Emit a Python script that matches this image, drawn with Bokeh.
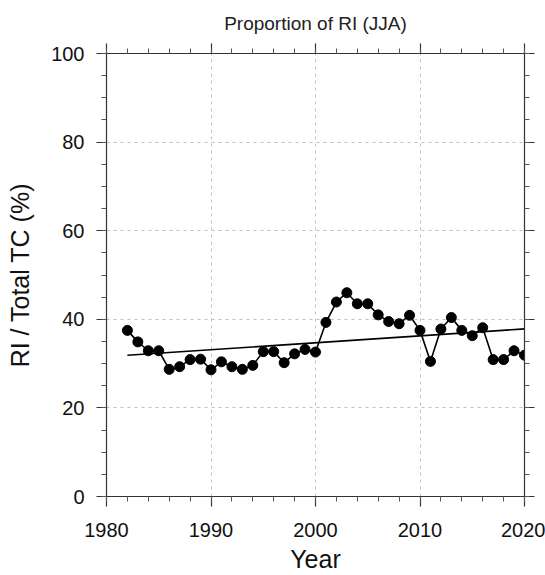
import numpy as np
from bokeh.plotting import figure
from bokeh.models import LinearAxis, FixedTicker, Range1d, CustomJSTickFormatter
from bokeh.embed import file_html
from bokeh.resources import INLINE

# Annual share of rapidly intensifying TCs (June-August), percent
years = list(range(1982, 2021))
ri_share = [37.5, 34.9, 32.9, 32.9, 28.7, 29.3, 30.9, 31.0, 28.6, 30.4,
            29.3, 28.7, 29.6, 32.7, 32.7, 30.2, 32.2, 33.2, 32.6, 39.3,
            43.9, 46.0, 43.5, 43.5, 41.0, 39.5, 39.0, 40.9, 37.5, 30.5,
            37.8, 40.4, 37.5, 36.3, 38.1, 30.9, 30.9, 32.9, 31.9]

x_major = [1980, 1990, 2000, 2010, 2020]
x_minor = [y for y in range(1980, 2021, 2)]
y_major = [0, 20, 40, 60, 80, 100]
y_minor = list(range(0, 101, 5))

# least-squares linear trend over the series
slope, intercept = np.polyfit(years, ri_share, 1)
trend_x = [years[0], years[-1]]
trend_y = [slope * x + intercept for x in trend_x]

FONT = "Liberation Sans"

p = figure(width=545, height=575, output_backend="svg", toolbar_location=None,
           x_range=Range1d(1980, 2020), y_range=Range1d(0, 100),
           min_border_left=106, min_border_right=21,
           min_border_top=53, min_border_bottom=79,
           title="Proportion of RI (JJA)")
p.title.align = "center"
p.title.text_font = FONT
p.title.text_font_size = "19px"
p.title.text_font_style = "normal"
p.title.text_color = "#222222"
p.title.standoff = 19
p.outline_line_color = None
p.background_fill_color = "white"
p.border_fill_color = "white"

def style_axis(ax, ticks, minors, show_labels):
    ax.ticker = FixedTicker(ticks=ticks, minor_ticks=minors)
    ax.axis_line_color = "#333333"
    ax.axis_line_width = 1.2
    ax.major_tick_line_color = "#333333"
    ax.major_tick_line_width = 1.2
    ax.minor_tick_line_color = "#555555"
    ax.major_tick_out = 10
    ax.major_tick_in = 0
    ax.minor_tick_out = 5
    ax.minor_tick_in = 0
    ax.major_label_text_font = FONT
    ax.major_label_text_font_size = "20px"
    ax.major_label_text_color = "#111111"
    ax.major_label_standoff = 12
    ax.axis_label_text_font = FONT
    ax.axis_label_text_font_size = "25px"
    ax.axis_label_text_font_style = "normal"
    ax.axis_label_text_color = "#111111"
    if not show_labels:
        ax.formatter = CustomJSTickFormatter(code="return ''")
        ax.major_label_standoff = 0
        ax.major_label_text_font_size = "1px"

style_axis(p.xaxis[0], x_major, x_minor, True)
style_axis(p.yaxis[0], y_major, y_minor, True)
p.xaxis[0].axis_label = "Year"
p.xaxis[0].major_label_standoff = 16
p.xaxis[0].axis_label_standoff = 5
p.yaxis[0].axis_label = "RI / Total TC (%)"
p.yaxis[0].axis_label_standoff = 14

top_ax = LinearAxis()
right_ax = LinearAxis()
style_axis(top_ax, x_major, x_minor, False)
style_axis(right_ax, y_major, y_minor, False)
p.add_layout(top_ax, "above")
p.add_layout(right_ax, "right")

p.xgrid.ticker = FixedTicker(ticks=[1990, 2000, 2010])
p.ygrid.ticker = FixedTicker(ticks=[20, 40, 60, 80])
for g in (p.xgrid, p.ygrid):
    g.grid_line_color = "#c0c0c0"
    g.grid_line_dash = "3 4"
    g.grid_line_width = 1

p.line(trend_x, trend_y, line_color="black", line_width=1.6)
p.line(years, ri_share, line_color="black", line_width=1.6)
p.scatter(years, ri_share, size=10, fill_color="black", line_color="black")

open("out.html", "w").write(file_html(p, INLINE))
